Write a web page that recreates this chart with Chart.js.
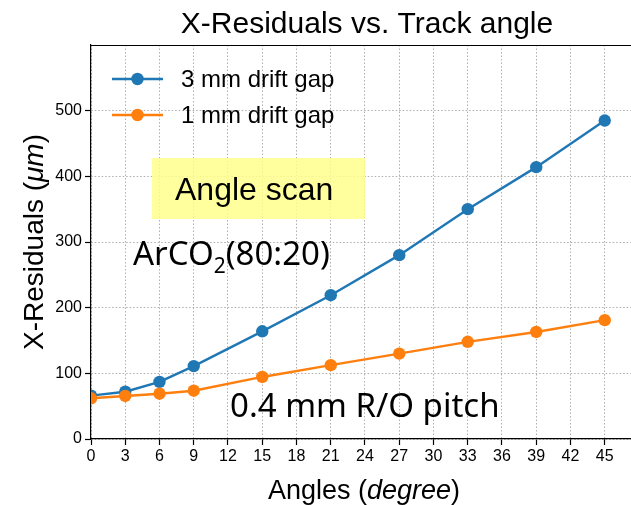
<!DOCTYPE html>
<html>
<head>
<meta charset="utf-8">
<script src="https://cdn.jsdelivr.net/npm/chart.js@4"></script>
<style>
  html, body { margin: 0; padding: 0; background: #fff; }
  canvas { display: block; }
</style>
</head>
<body>
<canvas id="c" width="631" height="505"></canvas>
<script>
// Track angles (degrees) and the measured X-residuals (µm)
const angles = [0, 3, 6, 9, 15, 21, 27, 33, 39, 45];
const gap3mm = [66, 72, 87, 111, 164, 219, 280, 350, 414, 485];
const gap1mm = [62, 65.5, 69, 73.5, 94.5, 112.5, 130, 148, 163, 181];
const seriesLabels = ['3 mm drift gap', '1 mm drift gap'];
const seriesColors = ['#1f77b4', '#ff7f0e'];
const xTicks = [0, 3, 6, 9, 12, 15, 18, 21, 24, 27, 30, 33, 36, 39, 42, 45];
const yTicks = [0, 100, 200, 300, 400, 500];

const SANS = '"Liberation Sans", Arial, Helvetica, sans-serif';
const NOTE = '"Noto Sans", "Open Sans", sans-serif';

function toPoints(xs, ys) { return xs.map((x, i) => ({ x: x, y: ys[i] })); }

// Draws a run of text pieces with individual fonts, starting at x
function drawRuns(ctx, runs, x, y) {
  let cx = x;
  for (const r of runs) {
    ctx.font = r.font;
    ctx.fillText(r.text, cx, y + (r.dy || 0));
    cx += ctx.measureText(r.text).width;
  }
  return cx;
}
function runsWidth(ctx, runs) {
  let w = 0;
  for (const r of runs) { ctx.font = r.font; w += ctx.measureText(r.text).width; }
  return w;
}

const decorations = {
  id: 'decorations',
  beforeDatasetsDraw(chart) {
    const ctx = chart.ctx;
    ctx.save();
    // highlighted "Angle scan" box
    ctx.fillStyle = 'rgba(255,255,140,0.85)';
    ctx.fillRect(152, 158, 213, 61);
    ctx.restore();
  },
  afterDraw(chart) {
    const ctx = chart.ctx;
    const a = chart.chartArea;
    ctx.save();
    // top spine
    ctx.strokeStyle = '#000';
    ctx.lineWidth = 1.2;
    ctx.beginPath();
    ctx.moveTo(a.left, a.top + 0.5);
    ctx.lineTo(a.right, a.top + 0.5);
    ctx.stroke();

    ctx.fillStyle = '#000';
    ctx.textBaseline = 'alphabetic';
    // title
    ctx.font = '30px ' + SANS;
    ctx.textAlign = 'center';
    ctx.fillText('X-Residuals vs. Track angle', 367, 33);

    // x-axis title with italic unit
    ctx.textAlign = 'left';
    const xRuns = [
      { text: 'Angles (', font: '27px ' + SANS },
      { text: 'degree', font: 'italic 27px ' + SANS },
      { text: ')', font: '27px ' + SANS }
    ];
    const xw = runsWidth(ctx, xRuns);
    drawRuns(ctx, xRuns, 364 - xw / 2, 499);

    // y-axis title, rotated
    const yRuns = [
      { text: 'X-Residuals (', font: '28px ' + SANS },
      { text: 'μm', font: 'italic 28px ' + SANS },
      { text: ')', font: '28px ' + SANS }
    ];
    const yw = runsWidth(ctx, yRuns);
    ctx.save();
    ctx.translate(43, (a.top + a.bottom) / 2);
    ctx.rotate(-Math.PI / 2);
    drawRuns(ctx, yRuns, -yw / 2, 0);
    ctx.restore();

    // legend
    const legY = [79, 115];
    chart.data.datasets.forEach((ds, i) => {
      const y = legY[i];
      ctx.strokeStyle = ds.borderColor;
      ctx.lineWidth = 2.4;
      ctx.beginPath();
      ctx.moveTo(112, y);
      ctx.lineTo(163, y);
      ctx.stroke();
      ctx.fillStyle = ds.backgroundColor;
      ctx.beginPath();
      ctx.arc(137.5, y, 6.2, 0, Math.PI * 2);
      ctx.fill();
      ctx.fillStyle = '#000';
      ctx.font = '24px ' + SANS;
      ctx.textBaseline = 'middle';
      ctx.fillText(ds.label, 181, y + 1);
    });

    // notes
    ctx.textBaseline = 'alphabetic';
    ctx.fillStyle = '#000';
    ctx.font = '32px ' + SANS;
    ctx.fillText('Angle scan', 175, 200);

    drawRuns(ctx, [
      { text: 'ArCO', font: '33px ' + NOTE },
      { text: '2', font: '21px ' + NOTE, dy: 8 },
      { text: '(80:20)', font: '33px ' + NOTE }
    ], 133, 265);

    ctx.font = '33px ' + NOTE;
    ctx.fillText('0.4 mm R/O pitch', 230, 417);
    ctx.restore();
  }
};

const gridStyle = {
  color: 'rgba(160,160,160,0.85)',
  lineWidth: 1,
  drawTicks: true,
  tickLength: 6,
  tickColor: '#000',
  tickWidth: 1.2
};

new Chart(document.getElementById('c'), {
  type: 'line',
  data: {
    datasets: [
      {
        label: seriesLabels[0],
        data: toPoints(angles, gap3mm),
        borderColor: seriesColors[0],
        backgroundColor: seriesColors[0],
        borderWidth: 2.4,
        pointRadius: 6.2,
        pointBorderWidth: 0,
        order: 1
      },
      {
        label: seriesLabels[1],
        data: toPoints(angles, gap1mm),
        borderColor: seriesColors[1],
        backgroundColor: seriesColors[1],
        borderWidth: 2.4,
        pointRadius: 6.2,
        pointBorderWidth: 0,
        order: 0
      }
    ]
  },
  options: {
    responsive: false,
    animation: false,
    layout: { autoPadding: false, padding: { top: 45, left: 0, right: 0, bottom: 0 } },
    plugins: {
      legend: { display: false },
      title: { display: false },
      tooltip: { enabled: false }
    },
    scales: {
      x: {
        type: 'linear',
        min: 0,
        max: 47.3,
        afterBuildTicks: s => { s.ticks = xTicks.map(v => ({ value: v })); },
        afterFit: s => { s.height = 66; s.paddingLeft = 0; s.paddingRight = 0; },
        ticks: {
          color: '#000',
          font: { family: SANS, size: 16 },
          padding: 2,
          maxRotation: 0,
          autoSkip: false
        },
        grid: gridStyle,
        border: { display: true, color: '#000', width: 1.2, dash: [1.5, 2] }
      },
      y: {
        type: 'linear',
        min: 0,
        max: 600,
        afterBuildTicks: s => { s.ticks = yTicks.map(v => ({ value: v })); },
        afterFit: s => { s.width = 91; s.paddingTop = 0; s.paddingBottom = 0; },
        ticks: {
          color: '#000',
          font: { family: SANS, size: 16 },
          padding: 3
        },
        grid: gridStyle,
        border: { display: true, color: '#000', width: 1.2, dash: [1.5, 2] }
      }
    }
  },
  plugins: [decorations]
});
</script>
</body>
</html>
